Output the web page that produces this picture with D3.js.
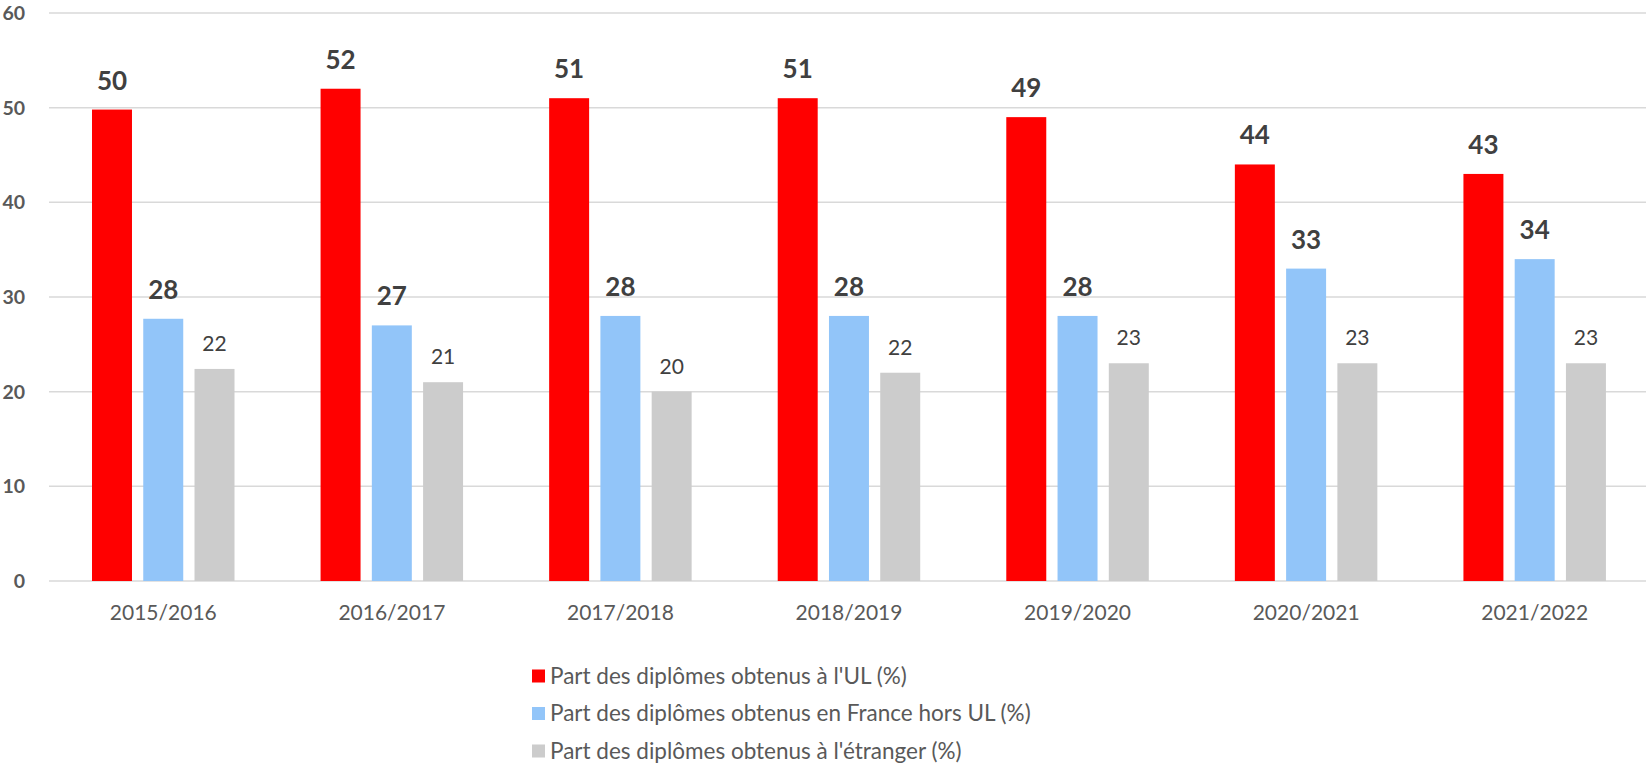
<html>
<head>
<meta charset="utf-8">
<script src="https://d3js.org/d3.v7.min.js"></script>
<style>
  body { margin: 0; background: #fff; }
  svg { display: block; font-family: Lato, "Open Sans", sans-serif; }
</style>
</head>
<body>
<script>
// data
var years = ["2015/2016", "2016/2017", "2017/2018", "2018/2019", "2019/2020", "2020/2021", "2021/2022"];
var seriesNames = [
  "Part des diplômes obtenus à l'UL (%)",
  "Part des diplômes obtenus en France hors UL (%)",
  "Part des diplômes obtenus à l'étranger (%)"
];
var ulValues      = [49.8, 52, 51, 51, 49, 44, 43];
var franceValues  = [27.7, 27, 28, 28, 28, 33, 34];
var etrangerValues = [22.4, 21, 20, 22, 23, 23, 23];
var yTicks = [0, 10, 20, 30, 40, 50, 60];
var seriesColors = ["#ff0000", "#92c5f9", "#cccccc"];

var W = 1646, H = 764;
var plot = { left: 49, right: 1649, top: 13, bottom: 581 };

var svg = d3.select("body").append("svg").attr("width", W).attr("height", H);

var x0 = d3.scaleBand().domain(years).range([plot.left, plot.right]).paddingInner(0).paddingOuter(0);
var keys = [0, 1, 2];
var x1 = d3.scaleBand().domain(keys).range([43, 228.5 - 43]).paddingInner(0.22);
var y = d3.scaleLinear().domain([0, 60]).range([plot.bottom, plot.top]);

var allSeries = [ulValues, franceValues, etrangerValues];

// grid lines
svg.append("g").selectAll("line").data(yTicks).enter().append("line")
  .attr("x1", plot.left).attr("x2", W)
  .attr("y1", function(d){ return y(d); }).attr("y2", function(d){ return y(d); })
  .attr("stroke", "#d9d9d9").attr("stroke-width", 1.5);

// y axis labels
svg.append("g").selectAll("text").data(yTicks).enter().append("text")
  .attr("x", 25).attr("y", function(d){ return y(d) + 7; })
  .attr("text-anchor", "end")
  .style("font-size", "19.5px").style("font-weight", "bold").style("fill", "#595959")
  .text(function(d){ return d; });

// bars
var groups = svg.append("g").selectAll("g").data(years).enter().append("g")
  .attr("transform", function(d){ return "translate(" + x0(d) + ",0)"; });

groups.each(function(yr, i) {
  var g = d3.select(this);
  keys.forEach(function(k) {
    var v = allSeries[k][i];
    g.append("rect")
      .attr("x", x1(k)).attr("width", x1.bandwidth())
      .attr("y", y(v)).attr("height", y(0) - y(v))
      .attr("fill", seriesColors[k]);
    var bold = k < 2;
    g.append("text")
      .attr("x", x1(k) + x1.bandwidth() / 2)
      .attr("y", y(v) - (bold ? 20 : 18))
      .attr("text-anchor", "middle")
      .style("font-size", bold ? "26px" : "21px")
      .style("font-weight", bold ? "bold" : "normal")
      .style("fill", "#404040")
      .text(Math.round(v));
  });
});

// x axis labels
svg.append("g").selectAll("text").data(years).enter().append("text")
  .attr("x", function(d){ return x0(d) + x0.bandwidth() / 2; })
  .attr("y", 620)
  .attr("text-anchor", "middle")
  .style("font-size", "21px").style("fill", "#595959")
  .text(function(d){ return d; });

// legend
var legend = svg.append("g").selectAll("g").data(seriesNames).enter().append("g")
  .attr("transform", function(d, i){ return "translate(532," + (676 + i * 37.5) + ")"; });
legend.append("rect").attr("x", 0).attr("y", -6.5).attr("width", 13).attr("height", 13)
  .attr("fill", function(d, i){ return seriesColors[i]; });
legend.append("text").attr("x", 18).attr("y", 7.5)
  .style("font-size", "22.5px").style("fill", "#595959")
  .text(function(d){ return d; });
</script>
</body>
</html>
